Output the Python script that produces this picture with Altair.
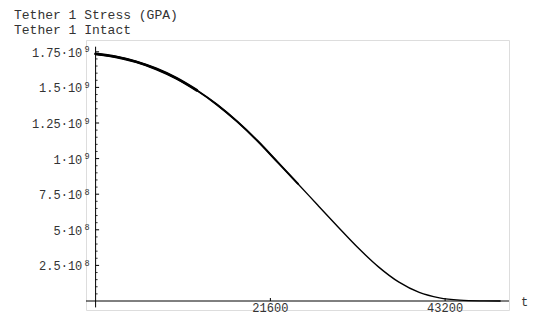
import altair as alt
import pandas as pd

# ---- data ----
t_sec = [0, 2500, 5000, 7500, 10000, 12500, 15000, 17500, 20000, 22500, 25000,
         27500, 30000, 32500, 35000, 37500, 40000, 42500, 45000, 47500, 50000]
stress = [1.735e9, 1.715e9, 1.680e9, 1.630e9, 1.564e9, 1.480e9, 1.379e9, 1.260e9,
          1.125e9, 0.975e9, 0.824e9, 0.670e9, 0.518e9, 0.370e9, 0.238e9, 0.132e9,
          0.060e9, 0.022e9, 0.006e9, 0.001e9, 0.0]

y_major = [2.5e8, 5e8, 7.5e8, 1e9, 1.25e9, 1.5e9, 1.75e9]
y_major_mant = ["2.5", "5", "7.5", "1", "1.25", "1.5", "1.75"]
y_major_exp = ["8", "8", "8", "9", "9", "9", "9"]
y_minor = [0.5e8, 1.0e8, 1.5e8, 2.0e8, 3.0e8, 3.5e8, 4.0e8, 4.5e8, 5.5e8, 6.0e8,
           6.5e8, 7.0e8, 8.0e8, 8.5e8, 9.0e8, 9.5e8, 10.5e8, 11.0e8, 11.5e8,
           12.0e8, 13.0e8, 13.5e8, 14.0e8, 14.5e8, 15.5e8, 16.0e8, 16.5e8, 17.0e8]
x_ticks = [21600, 43200]
x_tick_labels = ["21600", "43200"]
title_lines = ["Tether 1 Stress (GPA)", "Tether 1 Intact"]
x_name = "t"

FONT = "Liberation Mono"
TXT = "#333333"

X = alt.Scale(domain=[-1187, 51096], nice=False, zero=False)
Y = alt.Scale(domain=[-0.0632e9, 1.8329e9], nice=False, zero=False)

curve_df = pd.DataFrame({"t": t_sec, "v": stress})
major_df = pd.DataFrame({
    "v": y_major,
    "base": [m + "·10" for m in y_major_mant],
    "exp": y_major_exp,
})
minor_df = pd.DataFrame({"v": y_minor})
xt_df = pd.DataFrame({"t": x_ticks, "lab": x_tick_labels})
one = pd.DataFrame({"a": [0]})


def curve_part(width, t_max):
    base = alt.Chart(curve_df)
    if t_max is not None:
        base = base.transform_filter(alt.datum.t <= t_max)
    return base.mark_line(color="black", strokeWidth=width, interpolate="monotone",
                          strokeCap="round").encode(
        x=alt.X("t:Q", scale=X, axis=None),
        y=alt.Y("v:Q", scale=Y, axis=None),
        order="t:Q",
    )


curve_full = curve_part(1.4, None)
curve_mid = curve_part(2.0, 25000)
curve_top = curve_part(2.8, 12500)

x_axis = alt.Chart(one).mark_rule(color="black", strokeWidth=1).encode(
    x=alt.value(0), x2=alt.value("width"),
    y=alt.YDatum(0, scale=Y, axis=None),
)
y_axis = alt.Chart(one).mark_rule(color="black", strokeWidth=1).encode(
    x=alt.XDatum(0, scale=X, axis=None),
    y=alt.YDatum(1.786e9, scale=Y, axis=None),
    y2=alt.Y2Datum(-0.045e9),
)
maj_ticks = alt.Chart(major_df).mark_rule(color="black", strokeWidth=1, x2Offset=3.5).encode(
    x=alt.XDatum(0, scale=X, axis=None), x2=alt.X2Datum(0),
    y=alt.Y("v:Q", scale=Y, axis=None),
)
min_ticks = alt.Chart(minor_df).mark_rule(color="black", strokeWidth=0.8, x2Offset=2).encode(
    x=alt.XDatum(0, scale=X, axis=None), x2=alt.X2Datum(0),
    y=alt.Y("v:Q", scale=Y, axis=None),
)
x_tick_marks = alt.Chart(xt_df).mark_rule(color="black", strokeWidth=1, y2Offset=-3).encode(
    x=alt.X("t:Q", scale=X, axis=None),
    y=alt.YDatum(0, scale=Y, axis=None), y2=alt.Y2Datum(0),
)
y_lab = alt.Chart(major_df).mark_text(
    font=FONT, fontSize=12, color=TXT, align="right", baseline="middle",
    xOffset=-13.3, dy=1,
).encode(
    x=alt.XDatum(0, scale=X, axis=None),
    y=alt.Y("v:Q", scale=Y, axis=None),
    text="base:N",
)
y_exp = alt.Chart(major_df).mark_text(
    font=FONT, fontSize=8.5, color=TXT, align="left", baseline="middle",
    xOffset=-11, dy=-2.5,
).encode(
    x=alt.XDatum(0, scale=X, axis=None),
    y=alt.Y("v:Q", scale=Y, axis=None),
    text="exp:N",
)
x_lab = alt.Chart(xt_df).mark_text(
    font=FONT, fontSize=12, color=TXT, align="center", baseline="alphabetic", dy=10.5,
).encode(
    x=alt.X("t:Q", scale=X, axis=None),
    y=alt.YDatum(0, scale=Y, axis=None),
    text="lab:N",
)
x_name_lab = alt.Chart(pd.DataFrame({"lab": [x_name]})).mark_text(
    font=FONT, fontSize=12, color=TXT, align="left", baseline="middle", dy=1,
).encode(
    x=alt.value(435),
    y=alt.YDatum(0, scale=Y, axis=None),
    text="lab:N",
)
title1 = alt.Chart(one).mark_text(
    font=FONT, fontSize=13, color=TXT, align="left", baseline="alphabetic",
).encode(x=alt.value(-72), y=alt.value(-21.5), text=alt.value(title_lines[0]))
title2 = alt.Chart(one).mark_text(
    font=FONT, fontSize=13, color=TXT, align="left", baseline="alphabetic",
).encode(x=alt.value(-72), y=alt.value(-6), text=alt.value(title_lines[1]))

chart = alt.layer(
    x_axis, y_axis, min_ticks, maj_ticks, x_tick_marks,
    curve_full, curve_mid, curve_top,
    y_lab, y_exp, x_lab, x_name_lab, title1, title2,
).properties(
    width=423, height=270,
    padding={"left": 78, "top": 32, "right": 20, "bottom": 6},
    autosize=alt.AutoSizeParams(type="none"),
).configure_view(stroke=None).configure(background="white")

chart.save("out.html", embed_options={"renderer": "svg", "actions": False})
